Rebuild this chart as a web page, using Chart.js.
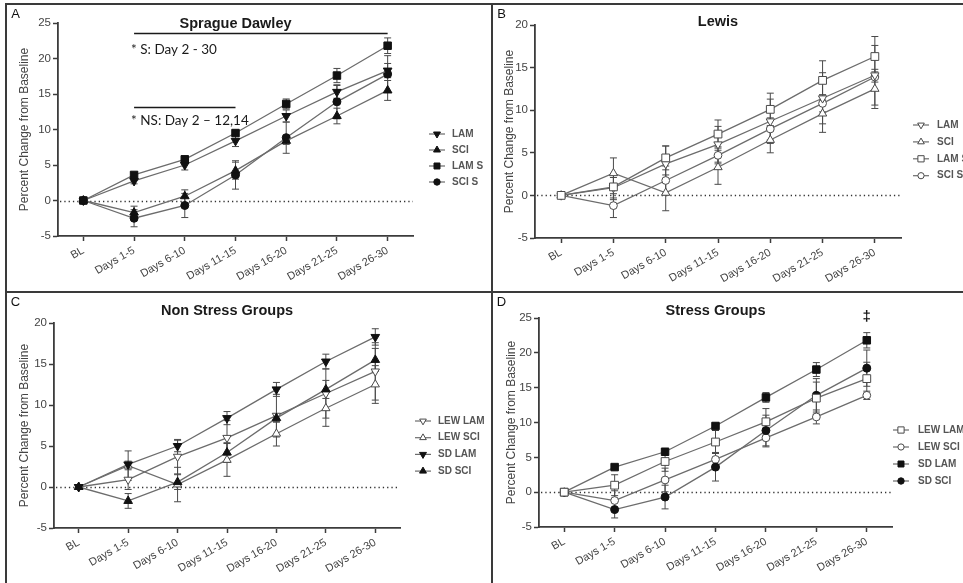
<!DOCTYPE html>
<html>
<head>
<meta charset="utf-8">
<title>Percent change from baseline</title>
<script src="https://cdn.jsdelivr.net/npm/chart.js@4.4.1/dist/chart.umd.min.js"></script>
<style>
  html, body { margin: 0; padding: 0; background: #fff; }
  #fig { position: relative; width: 963px; height: 583px; overflow: hidden; background: #fff; }
  #fig canvas { position: absolute; }
  .rule { position: absolute; background: #3a3a3a; }
</style>
</head>
<body>
<div id="fig">
  <canvas id="panelA" width="484" height="286" style="left:7px; top:5px"></canvas>
  <canvas id="panelB" width="470" height="286" style="left:493px; top:5px"></canvas>
  <canvas id="panelC" width="484" height="290" style="left:7px; top:293px"></canvas>
  <canvas id="panelD" width="470" height="290" style="left:493px; top:293px"></canvas>
  <div class="rule" style="left:5px; top:3px; width:958px; height:2px"></div>
  <div class="rule" style="left:5px; top:3px; width:2px; height:580px"></div>
  <div class="rule" style="left:491px; top:3px; width:2px; height:580px"></div>
  <div class="rule" style="left:5px; top:291px; width:958px; height:2px"></div>
</div>

<script>
// ---- data: % change from baseline, group means and SEM ----
const days = ["BL", "Days 1-5", "Days 6-10", "Days 11-15", "Days 16-20", "Days 21-25", "Days 26-30"];

// Sprague Dawley
const sdLam     = [0, 2.75, 5.0, 8.4, 11.9, 15.3, 18.3];
const sdLamErr  = [0, 0.4, 0.7, 0.8, 0.85, 0.9, 1.0];
const sdSci     = [0, -1.7, 0.6, 4.2, 8.4, 11.9, 15.5];
const sdSciErr  = [0, 0.9, 0.9, 1.2, 0.5, 1.1, 1.4];
const sdLamS    = [0, 3.6, 5.8, 9.5, 13.6, 17.6, 21.8];
const sdLamSErr = [0, 0.3, 0.3, 0.4, 0.7, 1.0, 1.1];
const sdSciS    = [0, -2.5, -0.7, 3.6, 8.85, 13.9, 17.8];
const sdSciSErr = [0, 1.2, 1.7, 2.0, 2.2, 2.4, 2.6];

// Lewis
const lewLam     = [0, 0.9, 3.7, 6.0, 8.7, 11.4, 14.1];
const lewLamErr  = [0, 1.2, 2.1, 2.1, 2.6, 3.0, 3.5];
const lewSci     = [0, 2.6, 0.3, 3.3, 6.5, 9.6, 12.5];
const lewSciErr  = [0, 1.8, 2.1, 2.0, 1.5, 2.2, 2.3];
const lewLamS    = [0, 1.0, 4.4, 7.2, 10.1, 13.5, 16.3];
const lewLamSErr = [0, 1.5, 1.4, 1.65, 1.9, 2.3, 2.35];
const lewSciS    = [0, -1.2, 1.75, 4.7, 7.8, 10.8, 13.9];
const lewSciSErr = [0, 1.4, 1.7, 1.0, 1.3, 1.0, 0.6];

// ---- look ----
const FONT = "'Liberation Sans', Arial, sans-serif";
const lineGrey = "#6c6c6c";
const axisGrey = "#3c3c3c";
const textGrey = "#444";
const errGrey = "#4a4a4a";

Chart.defaults.font.family = FONT;

// marker shapes: SD filled, Lewis open
const mk = {
  sdDown:  { style: "triangle", rot: 180, r: 5,   fill: "#111", edge: "#111" },
  sdUp:    { style: "triangle", rot: 0,   r: 5,   fill: "#111", edge: "#111" },
  sdSq:    { style: "rect",     rot: 0,   r: 5.3, fill: "#111", edge: "#111" },
  sdDot:   { style: "circle",   rot: 0,   r: 4,   fill: "#111", edge: "#111" },
  lewDown: { style: "triangle", rot: 180, r: 4.8, fill: "#fff", edge: "#4a4a4a" },
  lewUp:   { style: "triangle", rot: 0,   r: 4.8, fill: "#fff", edge: "#4a4a4a" },
  lewSq:   { style: "rect",     rot: 0,   r: 5.5, fill: "#fff", edge: "#4a4a4a" },
  lewDot:  { style: "circle",   rot: 0,   r: 3.9, fill: "#fff", edge: "#4a4a4a" }
};

const panels = [
  {
    id: "panelA", letter: "A", title: "Sprague Dawley", titleY: 19, yMax: 25, yTitleX: 18,
    box: { left: 51, top: 18, right: 78, bottom: 55 },
    legend: { dx: 16, tx: 39, dy: 111, step: 16 },
    series: [
      { label: "LAM",   data: sdLam,  err: sdLamErr,  m: mk.sdDown },
      { label: "SCI",   data: sdSci,  err: sdSciErr,  m: mk.sdUp },
      { label: "LAM S", data: sdLamS, err: sdLamSErr, m: mk.sdSq },
      { label: "SCI S", data: sdSciS, err: sdSciSErr, m: mk.sdDot }
    ],
    bars: [ { from: 1, to: 6, y: 23.6 }, { from: 1, to: 3, y: 13.2 } ],
    notes: [
      { at: 1, dx: -3, y: 21.3, text: "* S: Day 2 - 30", font: "13.5px Lato, sans-serif", align: "left" },
      { at: 1, dx: -3, y: 11.3, text: "* NS: Day 2 \u2013 12,14", font: "13.5px Lato, sans-serif", align: "left" }
    ]
  },
  {
    id: "panelB", letter: "B", title: "Lewis", titleY: 17, yMax: 20, yTitleX: 16.5,
    box: { left: 42, top: 20, right: 62, bottom: 53 },
    legend: { dx: 12, tx: 36, dy: 100, step: 16.9 },
    series: [
      { label: "LAM",   data: lewLam,  err: lewLamErr,  m: mk.lewDown },
      { label: "SCI",   data: lewSci,  err: lewSciErr,  m: mk.lewUp },
      { label: "LAM S", data: lewLamS, err: lewLamSErr, m: mk.lewSq },
      { label: "SCI S", data: lewSciS, err: lewSciSErr, m: mk.lewDot }
    ],
    bars: [], notes: []
  },
  {
    id: "panelC", letter: "C", title: "Non Stress Groups", titleY: 18, yMax: 20, yTitleX: 18,
    box: { left: 47, top: 30, right: 91, bottom: 55 },
    legend: { dx: 15, tx: 38, dy: 98, step: 16.7 },
    series: [
      { label: "LEW LAM", data: lewLam, err: lewLamErr, m: mk.lewDown },
      { label: "LEW SCI", data: lewSci, err: lewSciErr, m: mk.lewUp },
      { label: "SD LAM",  data: sdLam,  err: sdLamErr,  m: mk.sdDown },
      { label: "SD SCI",  data: sdSci,  err: sdSciErr,  m: mk.sdUp }
    ],
    bars: [], notes: []
  },
  {
    id: "panelD", letter: "D", title: "Stress Groups", titleY: 18, yMax: 25, yTitleX: 18.7,
    box: { left: 46, top: 25, right: 71, bottom: 56 },
    legend: { dx: 1, tx: 26, dy: 112, step: 17 },
    series: [
      { label: "LEW LAM", data: lewLamS, err: lewLamSErr, m: mk.lewSq },
      { label: "LEW SCI", data: lewSciS, err: lewSciSErr, m: mk.lewDot },
      { label: "SD LAM",  data: sdLamS,  err: sdLamSErr,  m: mk.sdSq },
      { label: "SD SCI",  data: sdSciS,  err: sdSciSErr,  m: mk.sdDot }
    ],
    bars: [],
    notes: [ { at: 6, dx: 0, y: 25.2, text: "\u2021", font: "bold 15px " + FONT, align: "center" } ]
  }
];

// zero line, error bars, titles, legend and notes for one panel
function panelExtras(cfg) {
  return {
    id: "extras",
    beforeDatasetsDraw(chart) {
      const { ctx, chartArea: a, scales: { x, y } } = chart;
      ctx.save();
      ctx.strokeStyle = "#333";
      ctx.lineWidth = 1.3;
      ctx.setLineDash([1.3, 3]);
      const y0 = Math.round(y.getPixelForValue(0)) + 0.5;
      ctx.beginPath();
      ctx.moveTo(a.left + 2, y0);
      ctx.lineTo(a.right, y0);
      ctx.stroke();
      ctx.setLineDash([]);

      ctx.strokeStyle = errGrey;
      ctx.lineWidth = 1;
      chart.data.datasets.forEach(ds => {
        ds.data.forEach((v, i) => {
          const e = ds.errors[i];
          if (!e) return;
          const px = x.getPixelForValue(i);
          const hi = y.getPixelForValue(v + e);
          const lo = y.getPixelForValue(v - e);
          ctx.beginPath();
          ctx.moveTo(px, hi); ctx.lineTo(px, lo);
          ctx.moveTo(px - 3.5, hi); ctx.lineTo(px + 3.5, hi);
          ctx.moveTo(px - 3.5, lo); ctx.lineTo(px + 3.5, lo);
          ctx.stroke();
        });
      });
      ctx.restore();
    },
    afterDraw(chart) {
      const { ctx, chartArea: a, scales: { x, y } } = chart;
      ctx.save();

      // panel letter + title
      ctx.fillStyle = "#111";
      ctx.textBaseline = "middle";
      ctx.textAlign = "center";
      ctx.font = "13px " + FONT;
      ctx.fillText(cfg.letter, 8.5, 9.5);
      ctx.font = "bold 14.5px " + FONT;
      ctx.fillStyle = "#1a1a1a";
      ctx.fillText(cfg.title, (a.left + a.right) / 2, cfg.titleY);

      // significance bars and notes
      ctx.strokeStyle = "#1a1a1a";
      ctx.lineWidth = 1.5;
      cfg.bars.forEach(b => {
        const by = Math.round(y.getPixelForValue(b.y)) + 0.5;
        ctx.beginPath();
        ctx.moveTo(x.getPixelForValue(b.from), by);
        ctx.lineTo(x.getPixelForValue(b.to), by);
        ctx.stroke();
      });
      cfg.notes.forEach(n => {
        ctx.font = n.font;
        ctx.textAlign = n.align;
        ctx.fillStyle = "#1a1a1a";
        ctx.fillText(n.text, x.getPixelForValue(n.at) + n.dx, y.getPixelForValue(n.y));
      });

      // legend: line segment with the marker on it
      cfg.series.forEach((s, i) => {
        const ly = a.top + cfg.legend.dy + i * cfg.legend.step;
        const lx = a.right + cfg.legend.dx;
        ctx.strokeStyle = lineGrey;
        ctx.lineWidth = 1.2;
        ctx.beginPath();
        ctx.moveTo(lx, ly);
        ctx.lineTo(lx + 16, ly);
        ctx.stroke();
        ctx.fillStyle = s.m.fill;
        ctx.strokeStyle = s.m.edge;
        ctx.lineWidth = 1;
        Chart.helpers.drawPoint(ctx, { pointStyle: s.m.style, rotation: s.m.rot, radius: s.m.r * 0.8, borderWidth: 1 }, lx + 8, ly);
        ctx.font = "bold 10px " + FONT;
        ctx.fillStyle = "#555";
        ctx.textAlign = "left";
        ctx.textBaseline = "middle";
        ctx.fillText(s.label, a.right + cfg.legend.tx, ly);
      });
      ctx.restore();
    }
  };
}

// stacking at the shared baseline point: squares, then filled, then open markers
function drawOrder(m, i) {
  if (m.style === "rect") return 0;
  return (m.fill === "#fff" ? 10 : 1) + i;
}

function makePanel(cfg) {
  const datasets = cfg.series.map((s, i) => ({
    label: s.label,
    data: s.data,
    errors: s.err,
    order: drawOrder(s.m, i),
    borderColor: lineGrey,
    borderWidth: 1.3,
    tension: 0,
    pointStyle: s.m.style,
    pointRotation: s.m.rot,
    pointRadius: s.m.r,
    pointBackgroundColor: s.m.fill,
    pointBorderColor: s.m.edge,
    pointBorderWidth: 1,
    clip: false
  }));

  new Chart(document.getElementById(cfg.id), {
    type: "line",
    data: { labels: days, datasets },
    options: {
      responsive: false,
      animation: false,
      events: [],
      layout: { padding: { left: 0, top: cfg.box.top, right: cfg.box.right, bottom: 0 } },
      plugins: { legend: { display: false }, tooltip: { enabled: false } },
      scales: {
        x: {
          offset: true,
          grid: { display: true, offset: false, drawOnChartArea: false, drawTicks: true, tickLength: 5, tickColor: axisGrey, tickWidth: 1.5 },
          border: { display: true, color: axisGrey, width: 1.8 },
          ticks: { autoSkip: false, minRotation: 30, maxRotation: 30, color: textGrey, font: { size: 11 }, padding: 3 },
          afterFit: s => { s.height = cfg.box.bottom; }
        },
        y: {
          min: -5,
          max: cfg.yMax,
          grid: { display: true, drawOnChartArea: false, drawTicks: true, tickLength: 5, tickColor: axisGrey, tickWidth: 1.5 },
          border: { display: true, color: axisGrey, width: 1.8 },
          ticks: { stepSize: 5, color: textGrey, font: { size: 11.5 }, padding: 2 },
          title: {
            display: true,
            text: "Percent Change from Baseline",
            color: textGrey,
            font: { size: 12 },
            padding: { top: cfg.yTitleX - 7.2, bottom: 0 }
          },
          afterFit: s => { s.width = cfg.box.left; }
        }
      }
    },
    plugins: [panelExtras(cfg)]
  });
}

panels.forEach(makePanel);
</script>
</body>
</html>
